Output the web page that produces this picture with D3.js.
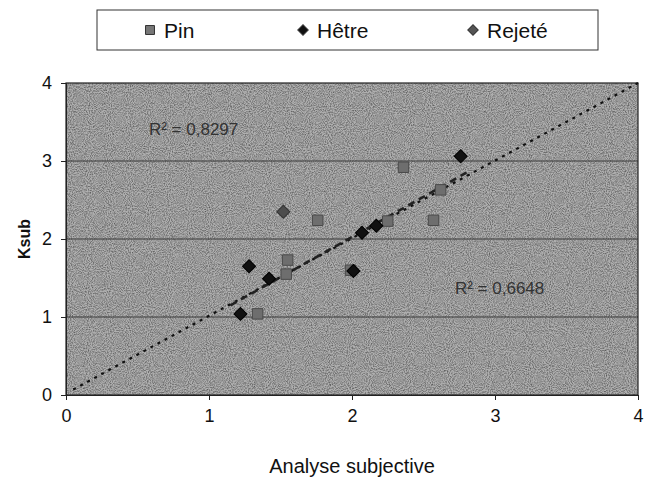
<!DOCTYPE html>
<html><head><meta charset="utf-8">
<script src="https://cdn.jsdelivr.net/npm/d3@7"></script>
<style>body{margin:0;background:#fff;}svg{display:block;font-family:"Liberation Sans",Arial,sans-serif;}</style>
</head><body>
<svg id="c" width="645" height="485"></svg>
<script>
// ---- data ----
const pinX = [1.34, 1.54, 1.55, 1.76, 1.99, 2.25, 2.36, 2.57, 2.62];
const pinY = [1.04, 1.55, 1.73, 2.24, 1.60, 2.23, 2.92, 2.24, 2.63];
const hetreX = [1.22, 1.42, 1.28, 2.01, 2.07, 2.17, 2.76];
const hetreY = [1.04, 1.49, 1.65, 1.59, 2.08, 2.17, 3.06];
const rejeteX = [1.52];
const rejeteY = [2.35];
const trendAllX = [0.05, 4.0];
const trendAllY = [0.07, 4.0];
const trendHetreX = [1.15, 2.8];
const trendHetreY = [1.15, 2.85];
const xTicks = [0, 1, 2, 3, 4];
const yTicks = [0, 1, 2, 3, 4];
const legendLabels = ["Pin", "Hêtre", "Rejeté"];
const r2Labels = ["R² = 0,8297", "R² = 0,6648"];
const r2Pos = [[0.58, 3.33], [2.72, 1.29]];

const svg = d3.select("#c");
const L = 66, R = 638, T = 83, B = 395;
const x = d3.scaleLinear().domain([0, 4]).range([L, R]);
const y = d3.scaleLinear().domain([0, 4]).range([B, T]);

// noise filter
const defs = svg.append("defs");
const f = defs.append("filter").attr("id", "noise").attr("x", 0).attr("y", 0).attr("width", "100%").attr("height", "100%");
f.append("feTurbulence").attr("type", "fractalNoise").attr("baseFrequency", 0.95).attr("numOctaves", 2).attr("seed", 3).attr("result", "t");
f.append("feColorMatrix").attr("in", "t").attr("type", "matrix")
  .attr("values", "0 0 0 0 0  0 0 0 0 0  0 0 0 0 0  0 0 0 -1.6 1.05");

// plot background
svg.append("rect").attr("x", L).attr("y", T).attr("width", R - L).attr("height", B - T).attr("fill", "#b0b0b0");
svg.append("rect").attr("x", L).attr("y", T).attr("width", R - L).attr("height", B - T).attr("filter", "url(#noise)").attr("opacity", 0.55);

// gridlines
svg.append("g").selectAll("line").data(yTicks.filter(d => d > 0 && d < 4)).join("line")
  .attr("x1", L).attr("x2", R).attr("y1", d => y(d)).attr("y2", d => y(d))
  .attr("stroke", "#3a3a3a").attr("stroke-width", 1);

// frame
svg.append("rect").attr("x", L).attr("y", T).attr("width", R - L).attr("height", B - T)
  .attr("fill", "none").attr("stroke", "#222").attr("stroke-width", 1.2);

// axes
const xa = svg.append("g").attr("transform", `translate(0,${B})`)
  .call(d3.axisBottom(x).tickValues(xTicks).tickSize(5).tickPadding(9).tickFormat(d3.format("d")));
const ya = svg.append("g").attr("transform", `translate(${L},0)`)
  .call(d3.axisLeft(y).tickValues(yTicks).tickSize(5).tickPadding(9).tickFormat(d3.format("d")));
[xa, ya].forEach(a => {
  a.select(".domain").attr("stroke", "#222");
  a.selectAll(".tick line").attr("stroke", "#222");
  a.selectAll("text").attr("font-size", 18).attr("fill", "#111").attr("font-family", "'Liberation Sans',Arial,sans-serif");
});

// axis titles
svg.append("text").attr("x", 352).attr("y", 473).attr("text-anchor", "middle")
  .attr("font-size", 20).attr("fill", "#111").text("Analyse subjective");
svg.append("text").attr("transform", "translate(30,239) rotate(-90)").attr("text-anchor", "middle")
  .attr("font-size", 16).attr("font-weight", "bold").attr("fill", "#111").text("Ksub");

// trendlines
const line = d3.line().x(d => x(d[0])).y(d => y(d[1]));
svg.append("path").datum(trendAllX.map((v, i) => [v, trendAllY[i]]))
  .attr("d", line).attr("stroke", "#111").attr("stroke-width", 2.2).attr("stroke-dasharray", "3,5").attr("fill", "none");
svg.append("path").datum(trendHetreX.map((v, i) => [v, trendHetreY[i]]))
  .attr("d", line).attr("stroke", "#222").attr("stroke-width", 2.6).attr("stroke-dasharray", "7,5").attr("fill", "none");

// R² labels
svg.append("g").selectAll("text").data(r2Labels).join("text")
  .attr("x", (d, i) => x(r2Pos[i][0])).attr("y", (d, i) => y(r2Pos[i][1]))
  .attr("font-size", 17).attr("fill", "#333").text(d => d);

// markers
const pinData = pinX.map((v, i) => [v, pinY[i]]);
const hetreData = hetreX.map((v, i) => [v, hetreY[i]]);
const rejData = rejeteX.map((v, i) => [v, rejeteY[i]]);
const sq = d3.symbol().type(d3.symbolSquare).size(110);
const dia = d3.symbol().type(d3.symbolSquare).size(85);
svg.append("g").selectAll("path").data(pinData).join("path")
  .attr("d", sq).attr("transform", d => `translate(${x(d[0])},${y(d[1])})`)
  .attr("fill", "#6e6e6e").attr("stroke", "#4a4a4a").attr("stroke-width", 1);
svg.append("g").selectAll("path").data(hetreData).join("path")
  .attr("d", dia).attr("transform", d => `translate(${x(d[0])},${y(d[1])}) rotate(45)`)
  .attr("fill", "#111").attr("stroke", "#000");
svg.append("g").selectAll("path").data(rejData).join("path")
  .attr("d", dia).attr("transform", d => `translate(${x(d[0])},${y(d[1])}) rotate(45)`)
  .attr("fill", "#4d4d4d").attr("stroke", "#333");

// legend
svg.append("rect").attr("x", 97).attr("y", 10).attr("width", 501).attr("height", 40)
  .attr("fill", "#fff").attr("stroke", "#333").attr("stroke-width", 1);
const legX = [150, 303, 473];
const legRot = [0, 45, 45];
const legSym = [d3.symbol().type(d3.symbolSquare).size(80), d3.symbol().type(d3.symbolSquare).size(55), d3.symbol().type(d3.symbolSquare).size(55)];
const legFill = ["#777", "#111", "#555"];
const lg = svg.append("g").selectAll("g").data(legendLabels).join("g")
  .attr("transform", (d, i) => `translate(${legX[i]},30)`);
lg.append("path").attr("d", (d, i) => legSym[i]()).attr("transform", (d, i) => `rotate(${legRot[i]})`)
  .attr("fill", (d, i) => legFill[i]).attr("stroke", "#333");
lg.append("text").attr("x", 14).attr("y", 8).attr("font-size", 21).attr("fill", "#111").text(d => d);
</script>
</body></html>
